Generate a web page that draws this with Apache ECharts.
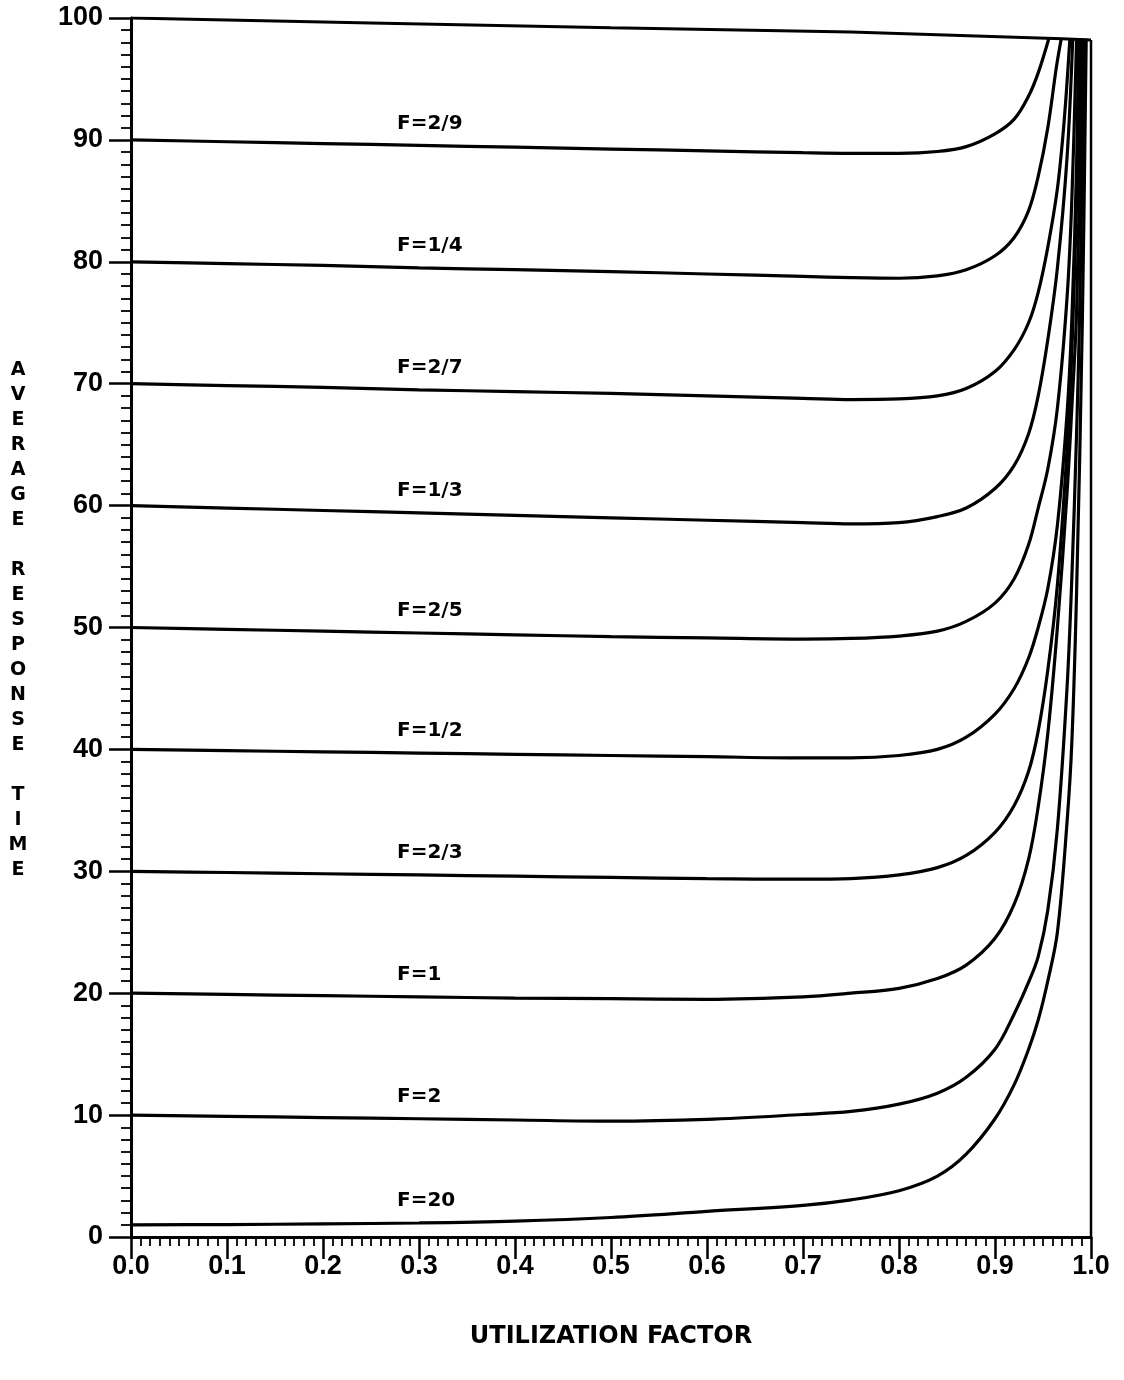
<!DOCTYPE html>
<html>
<head>
<meta charset="utf-8">
<script src="https://cdn.jsdelivr.net/npm/echarts@6/dist/echarts.min.js"></script>
<style>
  html, body { margin: 0; padding: 0; background: #fff; }
  #chart { width: 1124px; height: 1380px; }
</style>
</head>
<body>
<div id="chart"></div>
<script>
// Average response time vs. utilization factor, one curve per F value.
// Each curve is a list of [utilization, response time] pairs.
const curveF2_9 = [[0,90],[0.1,89.85],[0.2,89.7],[0.3,89.55],[0.4,89.4],[0.5,89.25],[0.6,89.1],[0.7,88.95],[0.75,88.9],[0.8,88.9],[0.84,89.05],[0.87,89.45],[0.9,90.5],[0.92,91.7],[0.935,93.6],[0.945,95.5],[0.956,98.3]];
const curveF1_4 = [[0,80],[0.1,79.85],[0.2,79.7],[0.3,79.5],[0.4,79.35],[0.5,79.2],[0.6,79.0],[0.7,78.8],[0.75,78.7],[0.8,78.65],[0.84,78.85],[0.87,79.35],[0.9,80.5],[0.92,82.0],[0.935,84.2],[0.945,87.0],[0.955,91.0],[0.964,96.0],[0.969,98.3]];
const curveF2_7 = [[0,70],[0.1,69.85],[0.2,69.7],[0.3,69.5],[0.4,69.35],[0.5,69.2],[0.6,69.0],[0.7,68.8],[0.75,68.7],[0.8,68.75],[0.84,69.0],[0.87,69.6],[0.9,71.0],[0.92,72.8],[0.935,75.0],[0.945,77.5],[0.955,81.2],[0.965,86.0],[0.972,91.5],[0.978,98.3]];
const curveF1_3 = [[0,60],[0.1,59.8],[0.2,59.6],[0.3,59.4],[0.4,59.2],[0.5,59.0],[0.6,58.8],[0.7,58.6],[0.75,58.5],[0.8,58.6],[0.84,59.1],[0.87,59.8],[0.9,61.4],[0.92,63.3],[0.935,65.9],[0.945,69.0],[0.955,73.6],[0.965,79.5],[0.975,88.5],[0.981,98.3]];
const curveF2_5 = [[0,50],[0.1,49.85],[0.2,49.7],[0.3,49.55],[0.4,49.4],[0.5,49.25],[0.6,49.15],[0.7,49.05],[0.75,49.1],[0.8,49.3],[0.84,49.7],[0.87,50.5],[0.9,52.0],[0.92,54.0],[0.935,56.8],[0.945,59.8],[0.955,63.0],[0.965,68.0],[0.975,77.0],[0.98,85.0],[0.985,98.3]];
const curveF1_2 = [[0,40],[0.1,39.9],[0.2,39.8],[0.3,39.7],[0.4,39.6],[0.5,39.5],[0.6,39.4],[0.7,39.3],[0.75,39.3],[0.8,39.5],[0.84,40.0],[0.87,41.0],[0.9,42.9],[0.92,45.0],[0.935,47.5],[0.945,50.0],[0.955,53.2],[0.965,58.4],[0.975,67.5],[0.98,75.2],[0.985,88.0],[0.987,98.3]];
const curveF2_3 = [[0,30],[0.1,29.9],[0.2,29.8],[0.3,29.7],[0.4,29.6],[0.5,29.5],[0.6,29.4],[0.7,29.35],[0.75,29.4],[0.8,29.7],[0.84,30.3],[0.87,31.3],[0.9,33.2],[0.92,35.4],[0.935,38.2],[0.945,41.5],[0.955,46.5],[0.965,53.5],[0.975,64.5],[0.98,72.5],[0.985,85.0],[0.989,98.3]];
const curveF1   = [[0,20],[0.1,19.9],[0.2,19.8],[0.3,19.7],[0.4,19.6],[0.5,19.55],[0.6,19.5],[0.7,19.7],[0.75,20.0],[0.8,20.4],[0.84,21.2],[0.87,22.3],[0.9,24.5],[0.92,27.3],[0.935,31.0],[0.945,35.3],[0.955,41.3],[0.965,50.0],[0.975,61.0],[0.98,68.0],[0.985,76.0],[0.991,98.3]];
const curveF2   = [[0,10],[0.1,9.9],[0.2,9.8],[0.3,9.7],[0.4,9.6],[0.5,9.5],[0.6,9.65],[0.7,10.05],[0.75,10.3],[0.8,10.9],[0.84,11.8],[0.87,13.1],[0.9,15.4],[0.92,18.3],[0.935,20.9],[0.945,23.0],[0.955,26.8],[0.965,33.5],[0.975,45.0],[0.98,54.0],[0.985,66.0],[0.988,75.2],[0.993,98.3]];
const curveF20  = [[0,1.0],[0.1,1.02],[0.2,1.08],[0.3,1.15],[0.4,1.3],[0.5,1.6],[0.6,2.1],[0.7,2.6],[0.75,3.05],[0.8,3.8],[0.84,5.0],[0.87,6.8],[0.9,9.7],[0.92,12.5],[0.935,15.4],[0.945,17.8],[0.955,21.0],[0.965,25.0],[0.975,34.0],[0.98,40.5],[0.985,53.0],[0.991,75.2],[0.995,98.3]];

// Upper boundary of the plot and the closing edge at full utilization.
const topEdge   = [[0,100],[0.25,99.6],[0.5,99.2],[0.75,98.85],[0.97,98.3],[1.0,98.2]];
const rightEdge = [[1.0,0],[1.0,98.2]];

const curveLabels = ['F=2/9','F=1/4','F=2/7','F=1/3','F=2/5','F=1/2','F=2/3','F=1','F=2','F=20'];
const curveData   = [curveF2_9, curveF1_4, curveF2_7, curveF1_3, curveF2_5, curveF1_2, curveF2_3, curveF1, curveF2, curveF20];
const labelAtX = 0.3;   // curve names sit above this utilization value

const xTicks = { min: 0, max: 1, step: 0.1 };
const yTicks = { min: 0, max: 100, step: 10 };
const yTitleLetters = ['A','V','E','R','A','G','E','','R','E','S','P','O','N','S','E','','T','I','M','E'];

const INK = '#000';
const TICK_FONT = 'Liberation Sans';
const TEXT_FONT = 'DejaVu Sans';

const chart = echarts.init(document.getElementById('chart'), null, { renderer: 'canvas' });

const curveSeries = curveData.map((pts, k) => ({
  type: 'line',
  name: curveLabels[k],
  symbol: 'circle',
  symbolSize: 0,
  showSymbol: true,
  smooth: 0.35,
  silent: true,
  z: 3,
  lineStyle: { color: INK, width: 3.2 },
  itemStyle: { color: INK },
  data: pts.map(p => p[0] === labelAtX ? {
    value: p,
    label: {
      show: true,
      formatter: curveLabels[k],
      position: 'top',
      align: 'left',
      distance: 12,
      offset: [-22, 0],
      color: INK,
      fontFamily: TEXT_FONT,
      fontWeight: 'bold',
      fontSize: 20
    }
  } : p)
}));

const edgeSeries = [
  { data: topEdge, width: 3 },
  { data: rightEdge, width: 2.5 }
].map(e => ({
  type: 'line',
  symbol: 'none',
  silent: true,
  z: 4,
  lineStyle: { color: INK, width: e.width },
  data: e.data
}));

chart.setOption({
  animation: false,
  backgroundColor: '#fff',
  grid: { left: 131, right: 33, top: 18, bottom: 143, containLabel: false },
  xAxis: {
    type: 'value',
    min: xTicks.min, max: xTicks.max, interval: xTicks.step,
    name: 'UTILIZATION FACTOR',
    nameLocation: 'middle',
    nameGap: 88,
    nameTextStyle: { color: INK, fontFamily: TEXT_FONT, fontWeight: 'bold', fontSize: 24 },
    axisLine: { show: true, onZero: false, lineStyle: { color: INK, width: 3 } },
    axisTick: { show: true, inside: false, length: 22, lineStyle: { color: INK, width: 2.5 } },
    minorTick: { show: true, splitNumber: 10, length: 9, lineStyle: { color: INK, width: 1.8 } },
    axisLabel: {
      color: INK, fontFamily: TICK_FONT, fontWeight: 'bold', fontSize: 27, margin: 16,
      formatter: v => v.toFixed(1)
    },
    splitLine: { show: false },
    minorSplitLine: { show: false }
  },
  yAxis: {
    type: 'value',
    min: yTicks.min, max: yTicks.max, interval: yTicks.step,
    axisLine: { show: true, onZero: false, lineStyle: { color: INK, width: 3 } },
    axisTick: { show: true, inside: false, length: 22, lineStyle: { color: INK, width: 2.5 } },
    minorTick: { show: true, splitNumber: 10, length: 10, lineStyle: { color: INK, width: 1.8 } },
    axisLabel: { color: INK, fontFamily: TICK_FONT, fontWeight: 'bold', fontSize: 27, margin: 28 },
    splitLine: { show: false },
    minorSplitLine: { show: false }
  },
  graphic: [{
    type: 'text',
    x: 18,
    y: 358,
    silent: true,
    style: {
      text: yTitleLetters.join('\n'),
      fill: INK,
      font: 'bold 19px "' + TEXT_FONT + '"',
      lineHeight: 25,
      align: 'center',
      verticalAlign: 'top'
    }
  }],
  series: curveSeries.concat(edgeSeries)
});
</script>
</body>
</html>
